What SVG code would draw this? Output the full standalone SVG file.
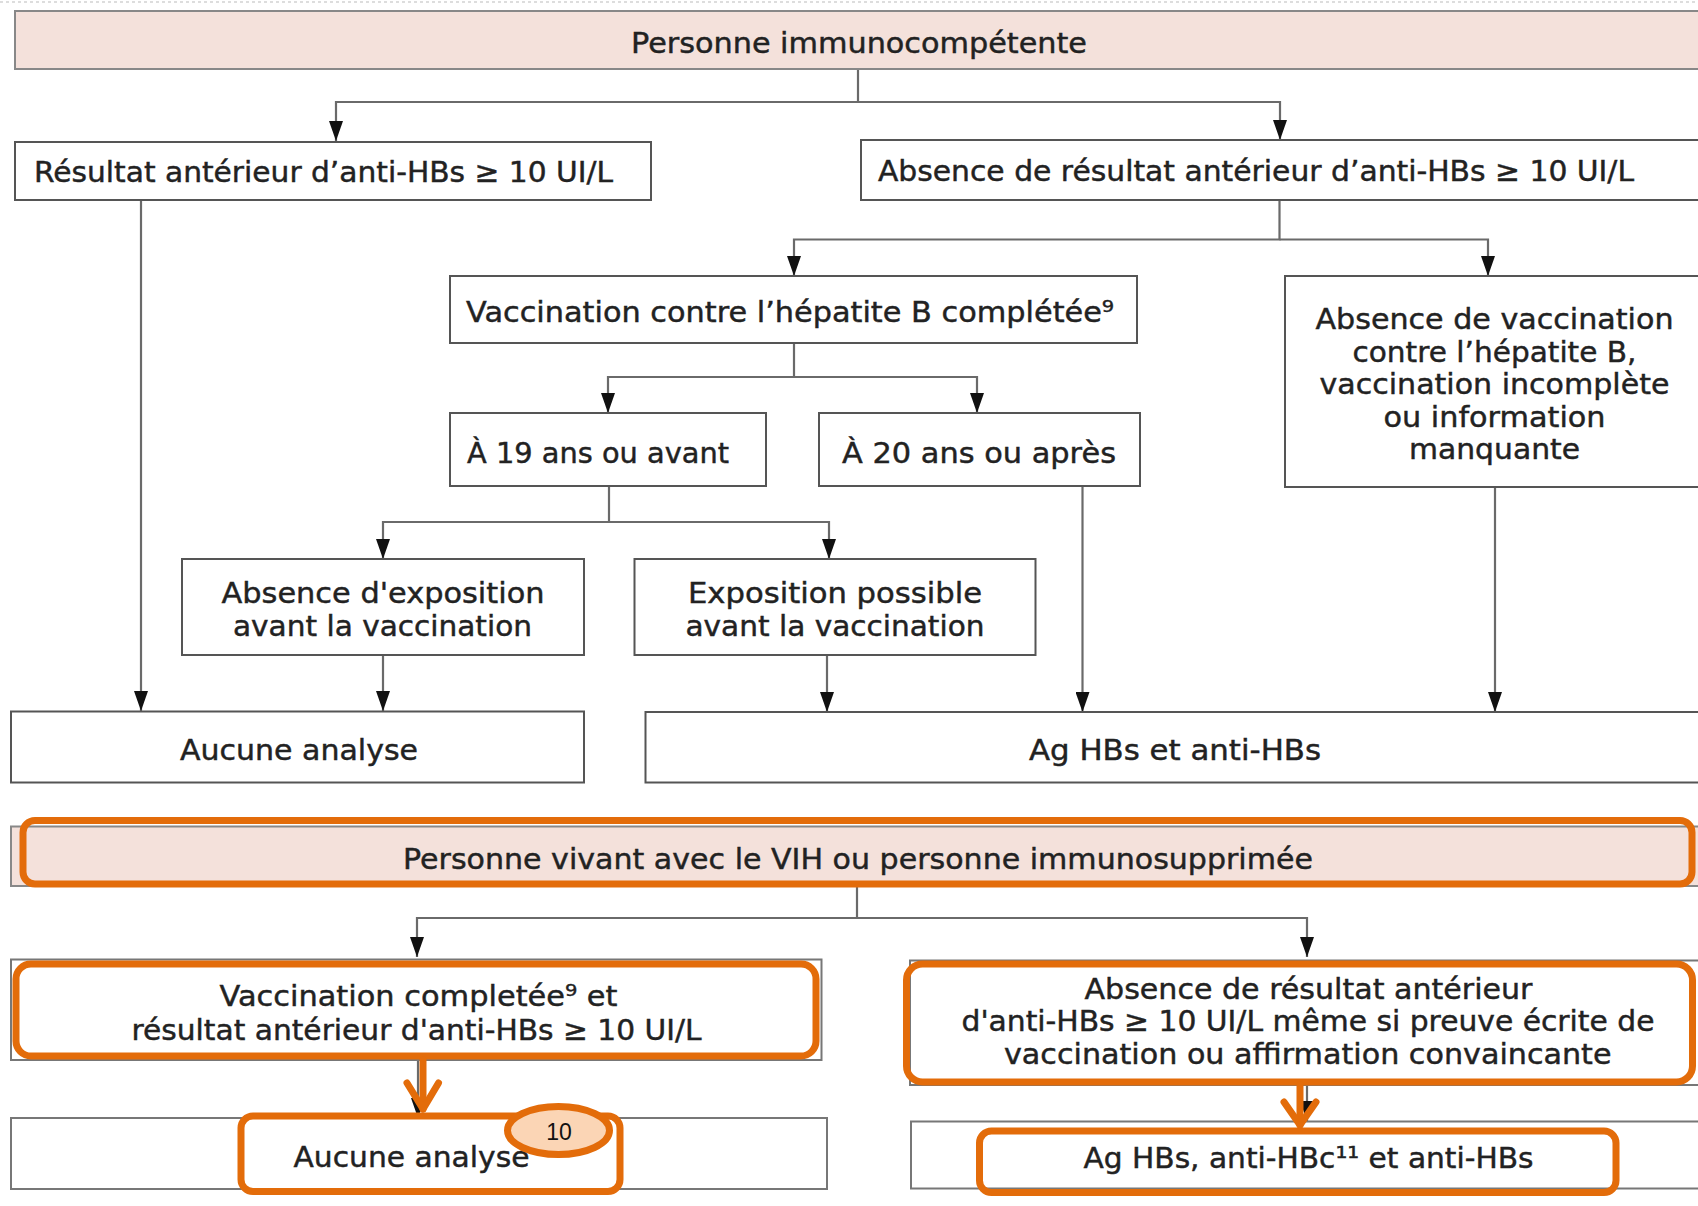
<svg xmlns="http://www.w3.org/2000/svg" width="1698" height="1206" viewBox="0 0 1698 1206">
<style>
.box{fill:#fff;stroke:#555;stroke-width:2}
.gbox{fill:#fff;stroke:#777;stroke-width:2}
.banner{fill:#F4E1DB;stroke:#888;stroke-width:2}
.line{fill:none;stroke:#6a6a6a;stroke-width:2.2}
.hl{fill:none;stroke:#E36C0A;stroke-width:7;stroke-linecap:round;stroke-linejoin:round}
text{font-family:"DejaVu Sans","Liberation Sans",sans-serif;font-size:29px;fill:#222;stroke:#222;stroke-width:0.45}
.m{text-anchor:middle}
.num{font-family:"Liberation Sans",Arial,sans-serif;font-size:23px;fill:#111;stroke:none;text-anchor:middle}
</style>
<defs>
<marker id="arr" markerUnits="userSpaceOnUse" markerWidth="20" markerHeight="14" refX="20" refY="7" orient="auto">
<path d="M0,0 L20,7 L0,14 z" fill="#111"/>
</marker>
</defs>
<rect width="1698" height="1206" fill="#fff"/>
<line x1="0" y1="2" x2="1698" y2="2" stroke="#ddd" stroke-width="2" stroke-dasharray="3,3"/>

<g id="connectors">
<path class="line" d="M858,69 V102 H336 V141" marker-end="url(#arr)"/>
<path class="line" d="M858,102 H1280 V140" marker-end="url(#arr)"/>
<path class="line" d="M141,200 V711" marker-end="url(#arr)"/>
<path class="line" d="M1279.5,200 V239.5 H794 V276" marker-end="url(#arr)"/>
<path class="line" d="M1279.5,239.5 H1488 V276" marker-end="url(#arr)"/>
<path class="line" d="M794,343 V377 H608 V413" marker-end="url(#arr)"/>
<path class="line" d="M794,377 H977 V413" marker-end="url(#arr)"/>
<path class="line" d="M609,486 V522 H383 V559" marker-end="url(#arr)"/>
<path class="line" d="M609,522 H829 V559" marker-end="url(#arr)"/>
<path class="line" d="M1082.5,486 V712" marker-end="url(#arr)"/>
<path class="line" d="M1495,487 V712" marker-end="url(#arr)"/>
<path class="line" d="M383,655 V711" marker-end="url(#arr)"/>
<path class="line" d="M827,655 V712" marker-end="url(#arr)"/>
<path class="line" d="M857,886 V918 H417 V957" marker-end="url(#arr)"/>
<path class="line" d="M857,918 H1307 V957" marker-end="url(#arr)"/>
<path class="line" d="M418,1060 V1118" marker-end="url(#arr)"/>
<path class="line" d="M1307,1085 V1121" marker-end="url(#arr)"/>
</g>

<g id="n-immuno">
<rect class="banner" x="15" y="11" width="1700" height="58"/>
<text x="631" y="52.5" textLength="456" lengthAdjust="spacingAndGlyphs">Personne immunocompétente</text>
</g>
<g id="n-resultat">
<rect class="box" x="15" y="142" width="636" height="58"/>
<text x="34" y="182" textLength="579" lengthAdjust="spacingAndGlyphs">Résultat antérieur d’anti-HBs ≥ 10 UI/L</text>
</g>
<g id="n-absence-resultat">
<rect class="box" x="861" y="140" width="900" height="60"/>
<text x="878" y="181" textLength="756" lengthAdjust="spacingAndGlyphs">Absence de résultat antérieur d’anti-HBs ≥ 10 UI/L</text>
</g>
<g id="n-vaccination">
<rect class="box" x="450" y="276" width="687" height="67"/>
<text x="466" y="322" textLength="648" lengthAdjust="spacingAndGlyphs">Vaccination contre l’hépatite B complétée⁹</text>
</g>
<g id="n-19ans">
<rect class="box" x="450" y="413" width="316" height="73"/>
<text x="467" y="463" textLength="262" lengthAdjust="spacingAndGlyphs">À 19 ans ou avant</text>
</g>
<g id="n-20ans">
<rect class="box" x="819" y="413" width="321" height="73"/>
<text x="842" y="463" textLength="274" lengthAdjust="spacingAndGlyphs">À 20 ans ou après</text>
</g>
<g id="n-absence-vaccination">
<rect class="box" x="1285" y="276" width="500" height="211"/>
<text class="m" x="1494.5" y="329" textLength="358" lengthAdjust="spacingAndGlyphs">Absence de vaccination</text>
<text class="m" x="1494.5" y="362" textLength="284" lengthAdjust="spacingAndGlyphs">contre l’hépatite B,</text>
<text class="m" x="1494.5" y="394" textLength="350" lengthAdjust="spacingAndGlyphs">vaccination incomplète</text>
<text class="m" x="1494.5" y="427" textLength="222" lengthAdjust="spacingAndGlyphs">ou information</text>
<text class="m" x="1494.5" y="459" textLength="171" lengthAdjust="spacingAndGlyphs">manquante</text>
</g>
<g id="n-absence-exposition">
<rect class="box" x="182" y="559" width="402" height="96"/>
<text class="m" x="383" y="603" textLength="323" lengthAdjust="spacingAndGlyphs">Absence d'exposition</text>
<text class="m" x="382.5" y="636" textLength="299" lengthAdjust="spacingAndGlyphs">avant la vaccination</text>
</g>
<g id="n-exposition-possible">
<rect class="box" x="634.5" y="559" width="401" height="96"/>
<text class="m" x="835" y="603" textLength="294" lengthAdjust="spacingAndGlyphs">Exposition possible</text>
<text class="m" x="835" y="636" textLength="299" lengthAdjust="spacingAndGlyphs">avant la vaccination</text>
</g>
<g id="n-aucune-1">
<rect class="box" x="11" y="711.5" width="573" height="71"/>
<text x="180" y="759.5" textLength="238" lengthAdjust="spacingAndGlyphs">Aucune analyse</text>
</g>
<g id="n-aghbs-1">
<rect class="box" x="645.5" y="712" width="1100" height="70.5"/>
<text x="1029" y="759.5" textLength="292" lengthAdjust="spacingAndGlyphs">Ag HBs et anti-HBs</text>
</g>

<g id="n-vih">
<rect class="banner" x="11" y="826.5" width="1700" height="59.5"/>
<rect class="hl" x="23" y="820.5" width="1669" height="63.5" rx="12"/>
<text x="403" y="869" textLength="910" lengthAdjust="spacingAndGlyphs">Personne vivant avec le VIH ou personne immunosupprimée</text>
</g>
<g id="n-vacc-completee">
<rect class="gbox" x="11" y="959.5" width="810.5" height="100.5"/>
<rect class="hl" x="16" y="964" width="800" height="92" rx="15"/>
<text x="219.5" y="1006" textLength="398" lengthAdjust="spacingAndGlyphs">Vaccination completée⁹ et</text>
<text x="131.5" y="1039.5" textLength="570" lengthAdjust="spacingAndGlyphs">résultat antérieur d'anti-HBs ≥ 10 UI/L</text>
</g>
<g id="n-absence-resultat-2">
<rect class="gbox" x="910" y="960.5" width="800" height="124.5"/>
<rect class="hl" x="906.5" y="964" width="786" height="118" rx="16"/>
<text x="1084.5" y="999" textLength="448" lengthAdjust="spacingAndGlyphs">Absence de résultat antérieur</text>
<text x="961.5" y="1031" textLength="693" lengthAdjust="spacingAndGlyphs">d'anti-HBs ≥ 10 UI/L même si preuve écrite de</text>
<text x="1004" y="1064" textLength="607.5" lengthAdjust="spacingAndGlyphs">vaccination ou affirmation convaincante</text>
</g>
<g id="n-aucune-2">
<rect class="gbox" x="11" y="1118" width="816" height="71"/>
<rect class="hl" x="241" y="1116" width="379" height="75.5" rx="12"/>
<text x="293.5" y="1167" textLength="236" lengthAdjust="spacingAndGlyphs">Aucune analyse</text>
<ellipse cx="558.5" cy="1130.5" rx="51" ry="24" fill="#FBD5B5" stroke="#E36C0A" stroke-width="7"/>
<text class="num" x="559" y="1140">10</text>
</g>
<g id="n-aghbs-2">
<rect class="gbox" x="911" y="1121.5" width="800" height="67"/>
<rect class="hl" x="979.5" y="1131" width="636.5" height="61.5" rx="12"/>
<text x="1083.5" y="1167.5" textLength="450" lengthAdjust="spacingAndGlyphs">Ag HBs, anti-HBc¹¹ et anti-HBs</text>
</g>

<g id="orange-arrows">
<path class="hl" d="M423,1060 V1109"/>
<path class="hl" d="M407,1083 L423,1109 L438.5,1083"/>
<path class="hl" d="M1300,1085 V1125"/>
<path class="hl" d="M1284,1102 L1300,1125 L1316,1102"/>
</g>
</svg>
